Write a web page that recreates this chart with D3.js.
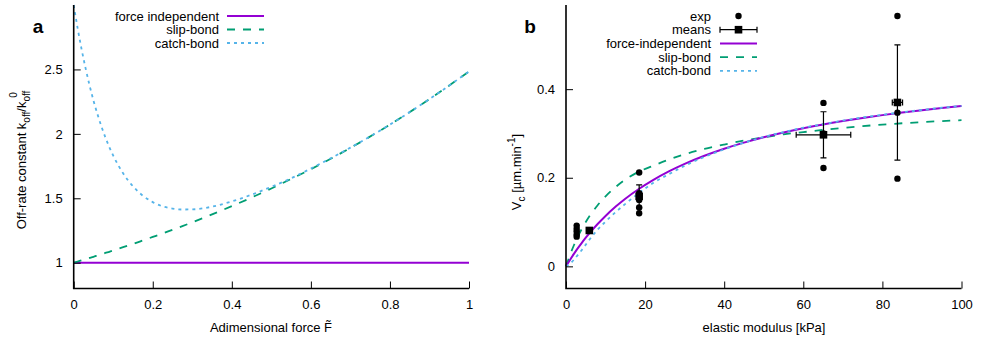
<!DOCTYPE html>
<html>
<head>
<meta charset="utf-8">
<script src="https://cdn.jsdelivr.net/npm/d3@7"></script>
<style>
  html, body { margin: 0; padding: 0; background: #fff; }
  svg { display: block; font-family: "Liberation Sans", Arial, Helvetica, sans-serif; }
</style>
</head>
<body>
<svg id="chart" width="992" height="339"></svg>
<script>
// ---- Panel a: off-rate constant vs adimensional force ----
const forceF = [0, 0.01, 0.02, 0.03, 0.04, 0.05, 0.06, 0.07, 0.08, 0.09, 0.1, 0.125, 0.15, 0.175, 0.2, 0.225, 0.25, 0.275, 0.3, 0.35, 0.4, 0.45, 0.5, 0.55, 0.6, 0.7, 0.8, 0.9, 1.0];
const koffIndependent = forceF.map(() => 1);
const koffSlip  = [1.000, 1.009, 1.018, 1.028, 1.037, 1.046, 1.056, 1.066, 1.076, 1.085, 1.095, 1.121, 1.146, 1.173, 1.200, 1.227, 1.256, 1.284, 1.314, 1.375, 1.439, 1.506, 1.576, 1.650, 1.726, 1.891, 2.072, 2.270, 2.484];
const koffCatch = [3.000, 2.819, 2.656, 2.510, 2.378, 2.259, 2.154, 2.059, 1.974, 1.898, 1.831, 1.694, 1.593, 1.520, 1.470, 1.437, 1.420, 1.413, 1.414, 1.435, 1.476, 1.528, 1.589, 1.655, 1.731, 1.893, 2.072, 2.270, 2.484];
const ticksA_x = [0, 0.2, 0.4, 0.6, 0.8, 1];
const ticksA_y = [1, 1.5, 2, 2.5];

// ---- Panel b: velocity vs elastic modulus ----
const modulusE = [0, 1, 2, 3, 4, 5, 6, 8, 10, 12.5, 15, 18.5, 22, 26, 30, 35, 40, 45, 50, 55, 60, 65, 70, 75, 80, 85, 90, 95, 100];
const vIndependent = [0, 0.0145, 0.0281, 0.0410, 0.0531, 0.0646, 0.0755, 0.0956, 0.1138, 0.1343, 0.1526, 0.1751, 0.1947, 0.2143, 0.2313, 0.2497, 0.2656, 0.2794, 0.2915, 0.3022, 0.3117, 0.3203, 0.3280, 0.3350, 0.3414, 0.3473, 0.3526, 0.3576, 0.3621];
const vSlip  = [0, 0.0254, 0.0476, 0.0672, 0.0846, 0.1001, 0.1140, 0.1380, 0.1580, 0.1787, 0.1958, 0.2140, 0.2270, 0.2410, 0.2530, 0.2650, 0.2750, 0.2840, 0.2910, 0.2980, 0.3030, 0.3080, 0.3125, 0.3165, 0.3200, 0.3230, 0.3256, 0.3279, 0.3300];
const vCatch = [0, 0.006, 0.015, 0.026, 0.037, 0.049, 0.061, 0.083, 0.101, 0.122, 0.141, 0.166, 0.188, 0.208, 0.227, 0.247, 0.264, 0.279, 0.292, 0.303, 0.313, 0.321, 0.329, 0.336, 0.342, 0.348, 0.353, 0.358, 0.362];

// individual experiments
const expE = [2.7, 2.7, 2.7, 2.7, 2.7, 18.5, 18.5, 18.5, 18.5, 18.5, 18.5, 65.1, 65.1, 65.1, 83.8, 83.8, 83.8];
const expV = [0.092, 0.085, 0.079, 0.072, 0.067, 0.212, 0.165, 0.158, 0.150, 0.133, 0.120, 0.369, 0.300, 0.222, 0.565, 0.347, 0.198];

// means with error bars
const meanE    = [5.9, 18.5, 65.1, 83.8];
const meanV    = [0.081, 0.158, 0.297, 0.370];
const meanErrE = [0, 0, 6.9, 1.3];
const meanErrV = [0, 0.026, 0.052, 0.130];

const ticksB_x = [0, 20, 40, 60, 80, 100];
const ticksB_y = [0, 0.2, 0.4];

const COL_IND = "#9400d3", COL_SLIP = "#009e73", COL_CATCH = "#56b4e9";
const FS = 13;

const svg = d3.select("#chart");

// ---------- generic axis helper (gnuplot-like inward ticks, left + bottom border) ----------
function drawAxes(g, x, y, xt, yt, xfmt, yfmt) {
  const [x0, x1] = x.range();
  const [y0, y1] = y.range();
  const ax = g.append("g").attr("transform", `translate(0,${y0})`)
    .call(d3.axisBottom(x).tickValues(xt).tickFormat(xfmt).tickSizeInner(-7).tickSizeOuter(0).tickPadding(11));
  const ay = g.append("g").attr("transform", `translate(${x0},0)`)
    .call(d3.axisLeft(y).tickValues(yt).tickFormat(yfmt).tickSizeInner(-7).tickSizeOuter(0).tickPadding(11));
  [ax, ay].forEach(a => {
    a.selectAll("text").attr("font-size", FS).attr("font-family", "Liberation Sans, Arial, sans-serif").attr("fill", "#000");
    a.selectAll(".tick line").attr("stroke", "#000").attr("stroke-width", 1);
    a.select(".domain").remove();
  });
  // border lines
  g.append("path").attr("d", `M${x0},${y1}V${y0}H${x1}`)
    .attr("fill", "none").attr("stroke", "#000").attr("stroke-width", 1.6);
}

// ---------- panel a ----------
const xA = d3.scaleLinear().domain([0, 1]).range([73.7, 469]);
const yA = d3.scaleLinear().domain([0.8, 3]).range([288.5, 5]);
const gA = svg.append("g");

const lineA = ys => d3.line().x((d, i) => xA(forceF[i])).y(d => yA(d)).curve(d3.curveMonotoneX)(ys);

gA.append("path").attr("d", lineA(koffIndependent)).attr("fill", "none").attr("stroke", COL_IND).attr("stroke-width", 2);
gA.append("path").attr("d", lineA(koffSlip)).attr("fill", "none").attr("stroke", COL_SLIP).attr("stroke-width", 1.8).attr("stroke-dasharray", "8,8");
gA.append("path").attr("d", lineA(koffCatch)).attr("fill", "none").attr("stroke", COL_CATCH).attr("stroke-width", 1.8).attr("stroke-dasharray", "3,4");

drawAxes(gA, xA, yA, ticksA_x, ticksA_y, d3.format("~g"), d3.format("~g"));

gA.append("text").attr("x", 271).attr("y", 332).attr("text-anchor", "middle").attr("font-size", FS)
  .text("Adimensional force F\u0303");

const ylabA = gA.append("text").attr("transform", "translate(26,160) rotate(-90)")
  .attr("text-anchor", "middle").attr("font-size", FS);
ylabA.append("tspan").text("Off-rate constant k");
ylabA.append("tspan").attr("dy", 4).attr("font-size", 10).text("off");
ylabA.append("tspan").attr("dy", -4).text("/k");
ylabA.append("tspan").attr("dy", 4).attr("font-size", 10).text("off");
ylabA.append("tspan").attr("dx", -7).attr("dy", -13).attr("font-size", 10).text("0");

gA.append("text").attr("x", 38).attr("y", 33).attr("text-anchor", "middle")
  .attr("font-size", 19).attr("font-weight", "bold").text("a");

// legend a
const legA = [
  { label: "force independent", color: COL_IND, dash: null, w: 2 },
  { label: "slip-bond", color: COL_SLIP, dash: "8,8", w: 1.8 },
  { label: "catch-bond", color: COL_CATCH, dash: "3,4", w: 1.8 }
];
legA.forEach((d, i) => {
  const yy = 16 + i * 13.5;
  gA.append("text").attr("x", 219).attr("y", yy + 4.5).attr("text-anchor", "end").attr("font-size", FS).text(d.label);
  gA.append("line").attr("x1", 227).attr("x2", 264).attr("y1", yy).attr("y2", yy)
    .attr("stroke", d.color).attr("stroke-width", d.w).attr("stroke-dasharray", d.dash);
});

// ---------- panel b ----------
const xB = d3.scaleLinear().domain([0, 100]).range([566, 961.5]);
const yB = d3.scaleLinear().domain([-0.05, 0.59]).range([288.5, 5]);
const gB = svg.append("g");

const lineB = ys => d3.line().x((d, i) => xB(modulusE[i])).y(d => yB(d)).curve(d3.curveMonotoneX)(ys);

gB.append("path").attr("d", lineB(vSlip)).attr("fill", "none").attr("stroke", COL_SLIP).attr("stroke-width", 1.8).attr("stroke-dasharray", "8,8");
gB.append("path").attr("d", lineB(vIndependent)).attr("fill", "none").attr("stroke", COL_IND).attr("stroke-width", 2);
gB.append("path").attr("d", lineB(vCatch)).attr("fill", "none").attr("stroke", COL_CATCH).attr("stroke-width", 1.8).attr("stroke-dasharray", "3,4");

// error bars
const cap = 3;
meanE.forEach((e, i) => {
  const cx = xB(e), cy = yB(meanV[i]);
  if (meanErrV[i] > 0) {
    const t = yB(meanV[i] + meanErrV[i]), b = yB(meanV[i] - meanErrV[i]);
    gB.append("path").attr("d", `M${cx},${t}V${b}M${cx - cap},${t}H${cx + cap}M${cx - cap},${b}H${cx + cap}`)
      .attr("stroke", "#000").attr("stroke-width", 1.2).attr("fill", "none");
  }
  if (meanErrE[i] > 0) {
    const l = xB(e - meanErrE[i]), r = xB(e + meanErrE[i]);
    gB.append("path").attr("d", `M${l},${cy}H${r}M${l},${cy - cap}V${cy + cap}M${r},${cy - cap}V${cy + cap}`)
      .attr("stroke", "#000").attr("stroke-width", 1.2).attr("fill", "none");
  }
});
// experimental points
expE.forEach((e, i) => {
  gB.append("circle").attr("cx", xB(e)).attr("cy", yB(expV[i])).attr("r", 3.2).attr("fill", "#000");
});
// means
meanE.forEach((e, i) => {
  gB.append("rect").attr("x", xB(e) - 3.8).attr("y", yB(meanV[i]) - 3.8).attr("width", 7.6).attr("height", 7.6).attr("fill", "#000");
});

drawAxes(gB, xB, yB, ticksB_x, ticksB_y, d3.format("~g"), d3.format("~g"));

gB.append("text").attr("x", 764).attr("y", 332).attr("text-anchor", "middle").attr("font-size", FS)
  .text("elastic modulus [kPa]");

const ylabB = gB.append("text").attr("transform", "translate(521,172) rotate(-90)")
  .attr("text-anchor", "middle").attr("font-size", FS);
ylabB.append("tspan").text("V");
ylabB.append("tspan").attr("dy", 4).attr("font-size", 10).text("c");
ylabB.append("tspan").attr("dy", -4).text(" [\u00b5m.min");
ylabB.append("tspan").attr("dy", -6).attr("font-size", 10).text("-1");
ylabB.append("tspan").attr("dy", 6).text("]");

gB.append("text").attr("x", 530).attr("y", 33).attr("text-anchor", "middle")
  .attr("font-size", 19).attr("font-weight", "bold").text("b");

// legend b
const legBx = 711, legBs = 720, legBe = 757;
const legB = ["exp", "means", "force-independent", "slip-bond", "catch-bond"];
legB.forEach((t, i) => {
  const yy = 16 + i * 13.7;
  gB.append("text").attr("x", legBx).attr("y", yy + 4.5).attr("text-anchor", "end").attr("font-size", FS).text(t);
});
const lyy = i => 16 + i * 13.7;
const mid = (legBs + legBe) / 2;
gB.append("circle").attr("cx", mid).attr("cy", lyy(0)).attr("r", 3.2).attr("fill", "#000");
gB.append("path").attr("d", `M${legBs},${lyy(1)}H${legBe}M${legBs},${lyy(1) - cap}V${lyy(1) + cap}M${legBe},${lyy(1) - cap}V${lyy(1) + cap}`)
  .attr("stroke", "#000").attr("stroke-width", 1.2).attr("fill", "none");
gB.append("rect").attr("x", mid - 3.8).attr("y", lyy(1) - 3.8).attr("width", 7.6).attr("height", 7.6).attr("fill", "#000");
[[COL_IND, null, 2], [COL_SLIP, "8,8", 1.8], [COL_CATCH, "3,4", 1.8]].forEach(([c, dsh, w], k) => {
  gB.append("line").attr("x1", legBs).attr("x2", legBe).attr("y1", lyy(k + 2)).attr("y2", lyy(k + 2))
    .attr("stroke", c).attr("stroke-width", w).attr("stroke-dasharray", dsh);
});
</script>
</body>
</html>
